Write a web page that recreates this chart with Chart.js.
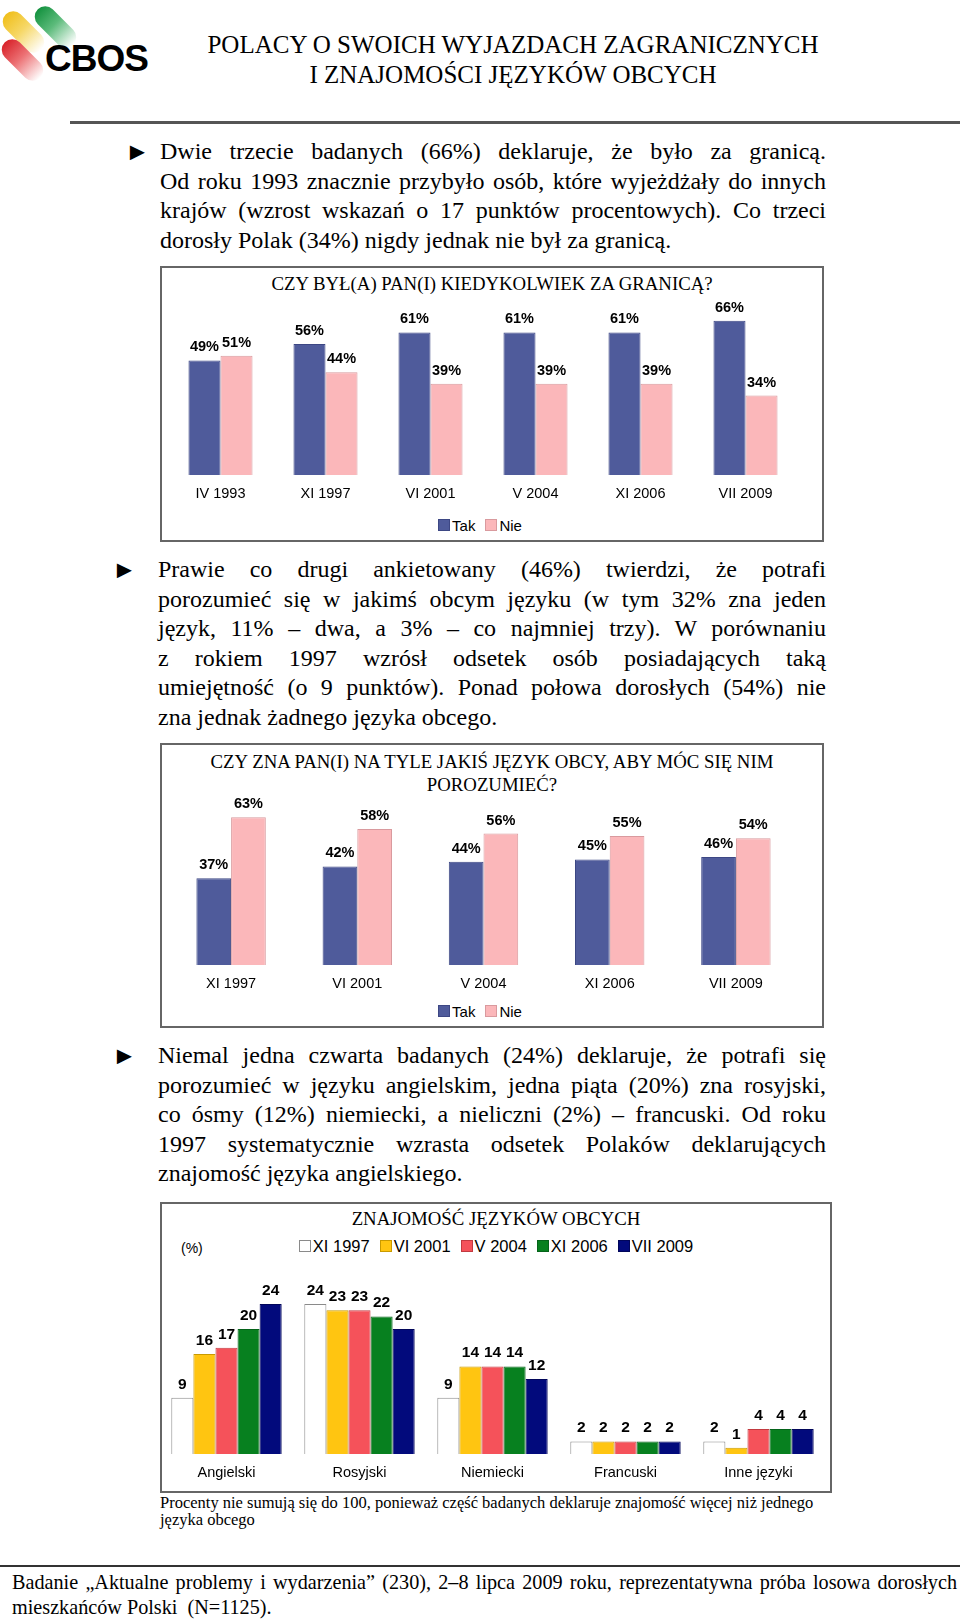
<!DOCTYPE html>
<html lang="pl">
<head>
<meta charset="utf-8">
<script src="https://cdn.jsdelivr.net/npm/chart.js@4.4.1/dist/chart.umd.min.js"></script>
<style>
  html, body { margin: 0; padding: 0; background: #fff; }
  body { width: 960px; height: 1620px; position: relative; overflow: hidden; font-family: "Liberation Serif", "Times New Roman", serif; color: #000; }
  .abs { position: absolute; }
  .logo .cap { position: absolute; width: 21px; height: 50px; border-radius: 11px; transform: rotate(-45deg); }
  .cbos { position: absolute; left: 45px; top: 38px; font-family: "Liberation Sans", Arial, sans-serif; font-weight: bold; font-size: 37px; letter-spacing: -1px; }
  .head { left: 130px; width: 766px; top: 30px; text-align: center; font-size: 25px; line-height: 30px; }
  .rule { height: 3px; background: #555; }
  .para { font-size: 24px; line-height: 29.5px; }
  .para div { text-align: justify; text-align-last: justify; white-space: nowrap; }
  .para div.last { text-align-last: left; }
  .arrow { font-size: 25px; line-height: 29.5px; }
  .box { border: 2px solid #666; box-sizing: border-box; }
  .ctitle { text-align: center; font-size: 18.8px; line-height: 23px; }
  .legend { display: flex; justify-content: center; align-items: center; font-family: "Liberation Sans", Arial, sans-serif; font-size: 15px; }
  .legend span.sw { display: inline-block; width: 12px; height: 12px; margin-right: 2px; box-sizing: border-box; border: 1px solid #555; }
  .legend .item { display: flex; align-items: center; margin-right: 10px; }
  .chartwrap { position: absolute; }
</style>
</head>
<body>

<script>
// ---- data ----
const trips_labels = ['IV 1993', 'XI 1997', 'VI 2001', 'V 2004', 'XI 2006', 'VII 2009'];
const trips_yes = [49, 56, 61, 61, 61, 66];
const trips_no = [51, 44, 39, 39, 39, 34];

const lang_labels = ['XI 1997', 'VI 2001', 'V 2004', 'XI 2006', 'VII 2009'];
const lang_yes = [37, 42, 44, 45, 46];
const lang_no = [63, 58, 56, 55, 54];

const known_labels = ['Angielski', 'Rosyjski', 'Niemiecki', 'Francuski', 'Inne języki'];
const known_series = ['XI 1997', 'VI 2001', 'V 2004', 'XI 2006', 'VII 2009'];
const known_1997 = [9, 24, 9, 2, 2];
const known_2001 = [16, 23, 14, 2, 1];
const known_2004 = [17, 23, 14, 2, 4];
const known_2006 = [20, 22, 14, 2, 4];
const known_2009 = [24, 20, 12, 2, 4];
</script>

<!-- header -->
<div class="abs logo" style="left:0;top:0;width:150px;height:85px;">
  <div class="cap" style="left:13px;top:7px;background:linear-gradient(180deg,#f0bf1c 0%,#f6d765 45%,rgba(255,250,225,0) 100%);"></div>
  <div class="cap" style="left:45px;top:2px;background:linear-gradient(180deg,#14923f 0%,#5cbb7b 45%,rgba(230,246,234,0) 100%);"></div>
  <div class="cap" style="left:12px;top:35px;background:linear-gradient(180deg,#d8232a 0%,#ec7174 45%,rgba(253,227,227,0) 100%);"></div>
  <div class="cbos">CBOS</div>
</div>
<div class="abs head">POLACY O SWOICH WYJAZDACH ZAGRANICZNYCH<br>I ZNAJOMOŚCI JĘZYKÓW OBCYCH</div>
<div class="abs rule" style="left:70px;width:890px;top:121px;"></div>

<!-- paragraph 1 -->
<div class="abs arrow" style="left:125px;top:137px;">►</div>
<div class="abs para" style="left:160px;width:666px;top:137px;">
  <div>Dwie trzecie badanych (66%) deklaruje, że było za granicą.</div>
  <div>Od roku 1993 znacznie przybyło osób, które wyjeżdżały do innych</div>
  <div>krajów (wzrost wskazań o 17 punktów procentowych). Co trzeci</div>
  <div class="last">dorosły Polak (34%) nigdy jednak nie był za granicą.</div>
</div>

<!-- chart 1 -->
<div class="abs box" style="left:160px;top:266px;width:664px;height:276px;"></div>
<div class="abs ctitle" style="left:160px;width:664px;top:272px;">CZY BYŁ(A) PAN(I) KIEDYKOLWIEK ZA GRANICĄ?</div>
<div class="chartwrap" style="left:168px;top:288px;width:630px;height:217px;"><canvas id="c1"></canvas></div>
<div class="abs legend" id="lg1" style="left:160px;width:650px;top:515px;height:20px;"></div>

<!-- paragraph 2 -->
<div class="abs arrow" style="left:112px;top:555px;">►</div>
<div class="abs para" style="left:158px;width:668px;top:555px;">
  <div>Prawie co drugi ankietowany (46%) twierdzi, że potrafi</div>
  <div>porozumieć się w jakimś obcym języku (w tym 32% zna jeden</div>
  <div>język, 11% – dwa, a 3% – co najmniej trzy). W porównaniu</div>
  <div>z rokiem 1997 wzrósł odsetek osób posiadających taką</div>
  <div>umiejętność (o 9 punktów). Ponad połowa dorosłych (54%) nie</div>
  <div class="last">zna jednak żadnego języka obcego.</div>
</div>

<!-- chart 2 -->
<div class="abs box" style="left:160px;top:743px;width:664px;height:285px;"></div>
<div class="abs ctitle" style="left:160px;width:664px;top:750px;">CZY ZNA PAN(I) NA TYLE JAKIŚ JĘZYK OBCY, ABY MÓC SIĘ NIM<br>POROZUMIEĆ?</div>
<div class="chartwrap" style="left:168px;top:789px;width:631px;height:206px;"><canvas id="c2"></canvas></div>
<div class="abs legend" id="lg2" style="left:160px;width:650px;top:1001px;height:20px;"></div>

<!-- paragraph 3 -->
<div class="abs arrow" style="left:112px;top:1041px;">►</div>
<div class="abs para" style="left:158px;width:668px;top:1041px;">
  <div>Niemal jedna czwarta badanych (24%) deklaruje, że potrafi się</div>
  <div>porozumieć w języku angielskim, jedna piąta (20%) zna rosyjski,</div>
  <div>co ósmy (12%) niemiecki, a nieliczni (2%) – francuski. Od roku</div>
  <div>1997 systematycznie wzrasta odsetek Polaków deklarujących</div>
  <div class="last">znajomość języka angielskiego.</div>
</div>

<!-- chart 3 -->
<div class="abs box" style="left:160px;top:1202px;width:672px;height:291px;"></div>
<div class="abs ctitle" style="left:160px;width:672px;top:1207px;">ZNAJOMOŚĆ JĘZYKÓW OBCYCH</div>
<div class="abs" style="left:181px;top:1240px;font-family:'Liberation Sans',Arial,sans-serif;font-size:14px;">(%)</div>
<div class="abs legend" id="lg3" style="left:160px;width:682px;top:1236px;height:20px;font-size:16.5px;"></div>
<div class="chartwrap" style="left:160px;top:1279px;width:665px;height:205px;"><canvas id="c3"></canvas></div>

<div class="abs" style="left:160px;top:1494px;width:700px;font-size:16.5px;line-height:17px;">Procenty nie sumują się do 100, ponieważ część badanych deklaruje znajomość więcej niż jednego<br>języka obcego</div>

<!-- footer -->
<div class="abs rule" style="left:0;width:960px;top:1565px;height:2px;background:#333;"></div>
<div class="abs" style="left:12px;width:945px;top:1570px;font-size:20.2px;line-height:25px;">
  <div style="text-align:justify;text-align-last:justify;white-space:nowrap;">Badanie „Aktualne problemy i wydarzenia” (230), 2–8 lipca 2009 roku, reprezentatywna próba losowa dorosłych</div>
  <div>mieszkańców Polski&nbsp; (N=1125).</div>
</div>

<script>
const valueLabels = {
  id: 'valueLabels',
  afterDatasetsDraw(chart, args, opts) {
    const ctx = chart.ctx;
    ctx.save();
    ctx.font = opts.font;
    ctx.fillStyle = '#000';
    ctx.textAlign = 'center';
    ctx.textBaseline = 'middle';
    chart.data.datasets.forEach((ds, i) => {
      chart.getDatasetMeta(i).data.forEach((bar, j) => {
        ctx.fillText(ds.data[j] + opts.suffix, bar.x, bar.y - opts.gap);
      });
    });
    ctx.restore();
  }
};

function makeChart(id, labels, datasets, max, catPct, labelFont, suffix, gap) {
  return new Chart(document.getElementById(id), {
    type: 'bar',
    data: { labels: labels, datasets: datasets },
    plugins: [valueLabels],
    options: {
      responsive: true,
      maintainAspectRatio: false,
      animation: false,
      layout: { padding: 0 },
      datasets: { bar: { barPercentage: 1, categoryPercentage: catPct, borderWidth: 1 } },
      plugins: {
        legend: { display: false },
        tooltip: { enabled: false },
        valueLabels: { font: labelFont, suffix: suffix, gap: gap }
      },
      scales: {
        x: {
          grid: { display: false, drawTicks: false },
          border: { display: false },
          ticks: { color: '#000', padding: 10, maxRotation: 0, autoSkip: false,
                   font: { family: "'Liberation Sans', Arial, sans-serif", size: 14.5 } },
          afterFit: function(s) { s.height = 30; }
        },
        y: { display: false, min: 0, max: max }
      }
    }
  });
}

function buildLegend(id, names, colors, borders) {
  const el = document.getElementById(id);
  names.forEach((n, i) => {
    const item = document.createElement('div');
    item.className = 'item';
    item.innerHTML = '<span class="sw" style="background:' + colors[i] + ';border-color:' + borders[i] + '"></span>' + n;
    el.appendChild(item);
  });
}

const BLUE = '#4f5b9b', BLUE_B = '#3d4784';
const PINK = '#fbb7ba', PINK_B = '#d99a9e';

makeChart('c1', trips_labels, [
  { label: 'Tak', data: trips_yes, backgroundColor: BLUE, borderColor: BLUE_B },
  { label: 'Nie', data: trips_no, backgroundColor: PINK, borderColor: PINK_B }
], 80, 0.61, "bold 14.5px 'Liberation Sans', Arial, sans-serif", '%', 13);
buildLegend('lg1', ['Tak', 'Nie'], [BLUE, PINK], [BLUE_B, PINK_B]);

makeChart('c2', lang_labels, [
  { label: 'Tak', data: lang_yes, backgroundColor: BLUE, borderColor: BLUE_B },
  { label: 'Nie', data: lang_no, backgroundColor: PINK, borderColor: PINK_B }
], 75, 0.55, "bold 14.5px 'Liberation Sans', Arial, sans-serif", '%', 13);
buildLegend('lg2', ['Tak', 'Nie'], [BLUE, PINK], [BLUE_B, PINK_B]);

const knownColors = ['#ffffff', '#ffc511', '#f5525a', '#07801f', '#020a7c'];
const knownBorders = ['#8a8a8a', '#c99a00', '#c23a40', '#05631a', '#01065a'];
const knownData = [known_1997, known_2001, known_2004, known_2006, known_2009];
makeChart('c3', known_labels, known_series.map((s, i) => ({
  label: s, data: knownData[i], backgroundColor: knownColors[i], borderColor: knownBorders[i]
})), 28, 0.83, "bold 15.5px 'Liberation Sans', Arial, sans-serif", '', 13.5);
buildLegend('lg3', known_series, knownColors, knownBorders);
</script>
</body>
</html>
